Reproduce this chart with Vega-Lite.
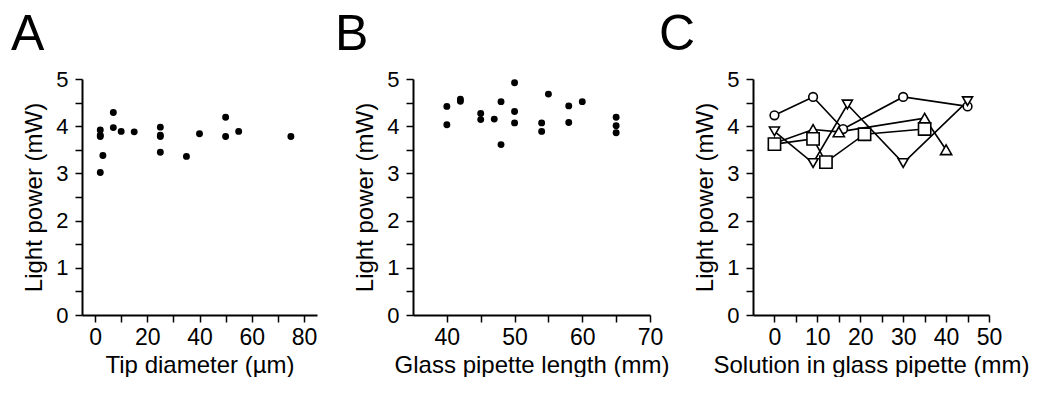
{
  "$schema": "https://vega.github.io/schema/vega-lite/v6.json",
  "padding": {"left": 11, "top": 10, "right": 0, "bottom": 0},
  "background": "white",
  "config": {
    "font": "Liberation Sans",
    "view": {"stroke": null},
    "axis": {
      "grid": false,
      "domainColor": "black",
      "domainWidth": 2,
      "tickColor": "black",
      "tickWidth": 1.5,
      "tickSize": 7,
      "labelColor": "black",
      "labelFont": "Liberation Sans",
      "labelOverlap": false,
      "labelFlush": false,
      "titleColor": "black",
      "titleFontSize": 24,
      "titleFontWeight": "normal",
      "titleFont": "Liberation Sans"
    },
    "axisX": {"labelFontSize": 23, "labelPadding": 4, "titlePadding": 4},
    "axisY": {"labelFontSize": 22, "labelPadding": 7, "titlePadding": 9},
    "title": {"font": "Liberation Sans", "fontSize": 50, "fontWeight": "normal", "color": "black", "anchor": "start", "frame": "group"}
  },
  "datasets": {
    "a": [
      {"tip": 2, "power": 3.92}, {"tip": 2, "power": 3.81}, {"tip": 2, "power": 3.78}, {"tip": 3, "power": 3.38}, {"tip": 2, "power": 3.02},
      {"tip": 7, "power": 4.29}, {"tip": 7, "power": 3.97}, {"tip": 10, "power": 3.89}, {"tip": 15, "power": 3.88},
      {"tip": 25, "power": 3.98}, {"tip": 25, "power": 3.81}, {"tip": 25, "power": 3.78}, {"tip": 25, "power": 3.45},
      {"tip": 35, "power": 3.36}, {"tip": 40, "power": 3.84}, {"tip": 50, "power": 4.19}, {"tip": 50, "power": 3.78},
      {"tip": 55, "power": 3.89}, {"tip": 75, "power": 3.78}
    ],
    "b": [
      {"len": 40, "power": 4.42}, {"len": 40, "power": 4.03}, {"len": 42, "power": 4.57}, {"len": 42, "power": 4.53},
      {"len": 45, "power": 4.27}, {"len": 45, "power": 4.14}, {"len": 47, "power": 4.15}, {"len": 48, "power": 4.52},
      {"len": 48, "power": 3.61}, {"len": 50, "power": 4.92}, {"len": 50, "power": 4.31}, {"len": 50, "power": 4.07},
      {"len": 54, "power": 4.07}, {"len": 54, "power": 3.89}, {"len": 55, "power": 4.68}, {"len": 58, "power": 4.43},
      {"len": 58, "power": 4.08}, {"len": 60, "power": 4.52}, {"len": 65, "power": 4.19}, {"len": 65, "power": 4.01},
      {"len": 65, "power": 3.86}
    ],
    "c": [
      {"series": "circle", "sol": 0, "power": 4.23}, {"series": "circle", "sol": 9, "power": 4.62}, {"series": "circle", "sol": 16, "power": 3.94}, {"series": "circle", "sol": 30, "power": 4.62}, {"series": "circle", "sol": 45, "power": 4.42},
      {"series": "down", "sol": 0, "power": 3.89}, {"series": "down", "sol": 9, "power": 3.22}, {"series": "down", "sol": 17, "power": 4.46}, {"series": "down", "sol": 30, "power": 3.22}, {"series": "down", "sol": 45, "power": 4.53},
      {"series": "up", "sol": 0, "power": 3.64}, {"series": "up", "sol": 9, "power": 3.93}, {"series": "up", "sol": 15, "power": 3.88}, {"series": "up", "sol": 35, "power": 4.17}, {"series": "up", "sol": 40, "power": 3.5},
      {"series": "square", "sol": 0, "power": 3.62}, {"series": "square", "sol": 9, "power": 3.73}, {"series": "square", "sol": 12, "power": 3.24}, {"series": "square", "sol": 21, "power": 3.83}, {"series": "square", "sol": 35, "power": 3.94}
    ]
  },
  "bounds": "flush",
  "spacing": 96,
  "hconcat": [
    {
      "width": 235, "height": 236,
      "title": {"text": "A", "dx": -71, "offset": 8},
      "data": {"name": "a"},
      "mark": {"type": "point", "filled": true, "color": "black", "opacity": 1, "size": 48},
      "encoding": {
        "x": {"field": "tip", "type": "quantitative", "title": "Tip diameter (µm)",
          "scale": {"domain": [-5, 85], "nice": false, "zero": false},
          "axis": {"values": [0, 10, 20, 30, 40, 50, 60, 70, 80], "labelExpr": "datum.value % 20 === 0 ? datum.label : ''"}},
        "y": {"field": "power", "type": "quantitative", "title": "Light power (mW)",
          "scale": {"domain": [0, 5], "nice": false, "zero": false},
          "axis": {"values": [0, 0.5, 1, 1.5, 2, 2.5, 3, 3.5, 4, 4.5, 5], "labelExpr": "datum.value % 1 === 0 ? format(datum.value, 'd') : ''"}}
      }
    },
    {
      "bounds": "flush",
      "spacing": 103,
      "hconcat": [
        {
          "width": 237, "height": 236,
          "title": {"text": "B", "dx": -78, "offset": 8},
          "data": {"name": "b"},
          "mark": {"type": "point", "filled": true, "color": "black", "opacity": 1, "size": 48},
          "encoding": {
            "x": {"field": "len", "type": "quantitative", "title": "Glass pipette length (mm)",
              "scale": {"domain": [35, 70], "nice": false, "zero": false},
              "axis": {"values": [40, 45, 50, 55, 60, 65, 70], "labelExpr": "datum.value % 10 === 0 ? datum.label : ''"}},
            "y": {"field": "power", "type": "quantitative", "title": "Light power (mW)",
              "scale": {"domain": [0, 5], "nice": false, "zero": false},
              "axis": {"values": [0, 0.5, 1, 1.5, 2, 2.5, 3, 3.5, 4, 4.5, 5], "labelExpr": "datum.value % 1 === 0 ? format(datum.value, 'd') : ''"}}
          }
        },
        {
          "width": 236, "height": 236,
          "title": {"text": "C", "dx": -94, "offset": 8},
          "data": {"name": "c"},
          "encoding": {
            "x": {"field": "sol", "type": "quantitative", "title": "Solution in glass pipette (mm)",
              "scale": {"domain": [-5, 50], "nice": false, "zero": false},
              "axis": {"values": [0, 5, 10, 15, 20, 25, 30, 35, 40, 45, 50], "labelExpr": "datum.value % 10 === 0 ? datum.label : ''"}},
            "y": {"field": "power", "type": "quantitative", "title": "Light power (mW)",
              "scale": {"domain": [0, 5], "nice": false, "zero": false},
              "axis": {"values": [0, 0.5, 1, 1.5, 2, 2.5, 3, 3.5, 4, 4.5, 5], "labelExpr": "datum.value % 1 === 0 ? format(datum.value, 'd') : ''"}}
          },
          "layer": [
            {
              "mark": {"type": "line", "color": "black", "strokeWidth": 1.6},
              "encoding": {"detail": {"field": "series"}, "order": {"field": "sol"}}
            },
            {
              "mark": {"type": "point", "filled": true, "fill": "white", "stroke": "black", "strokeWidth": 1.6, "opacity": 1},
              "encoding": {
                "shape": {"field": "series", "type": "nominal", "legend": null,
                  "scale": {"domain": ["circle", "down", "up", "square"], "range": ["circle", "triangle-down", "triangle-up", "square"]}},
                "size": {"field": "series", "type": "nominal", "legend": null,
                  "scale": {"domain": ["circle", "down", "up", "square"], "range": [75, 150, 150, 66]}}
              }
            }
          ]
        }
      ]
    }
  ]
}
